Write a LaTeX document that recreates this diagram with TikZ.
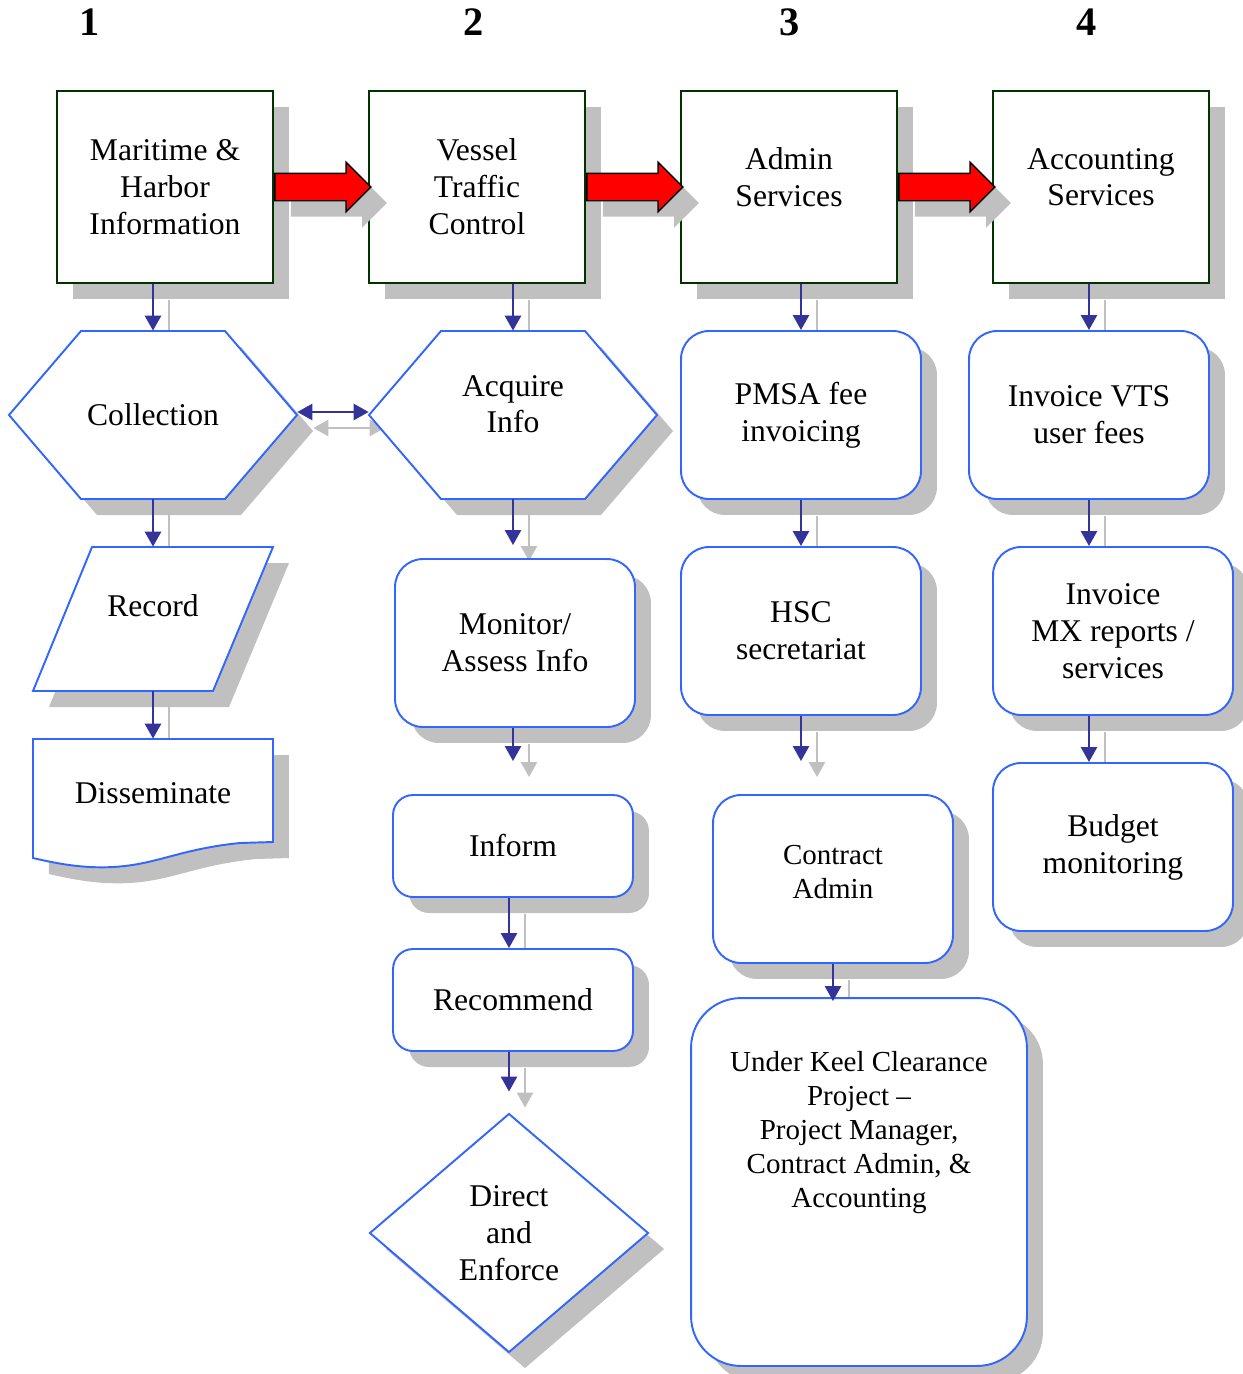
\documentclass[tikz,border=0pt]{standalone}
\usepackage{fontspec}
\setmainfont{Liberation Serif}
\usetikzlibrary{arrows.meta,calc,positioning,shadows,shapes.geometric,shapes.arrows}
\pgfdeclarelayer{back}
\pgfsetlayers{back,main}
\definecolor{shapeblue}{HTML}{3366FF}
\definecolor{flowblue}{HTML}{333399}
\definecolor{boxgreen}{HTML}{003300}
\definecolor{shadegray}{HTML}{C0C0C0}
\tikzset{
  txt/.style={align=center,font=\fontsize{18}{21}\selectfont,inner sep=0pt},
  smalltxt/.style={align=center,font=\fontsize{16.5}{19.4}\selectfont,inner sep=0pt},
  shd/.style={drop shadow={shadow xshift=0.32cm,shadow yshift=-0.32cm,fill=shadegray,opacity=1}},
  topbox/.style={txt,shd,draw=boxgreen,line width=1.4pt,fill=white,minimum width=4.32cm,minimum height=3.84cm},
  rbox/.style={txt,shd,draw=shapeblue,line width=1.1pt,fill=white,rounded corners=0.56cm,minimum width=4.8cm,minimum height=3.36cm},
  outline/.style={shd,draw=shapeblue,line width=1.1pt,fill=white},
  flow/.style={draw=flowblue,line width=1.5pt,-{Triangle[length=0.3cm,width=0.32cm]}},
  flowshade/.style={flow,draw=shadegray},
  flowboth/.style={{Triangle[length=0.3cm,width=0.32cm]}-{Triangle[length=0.3cm,width=0.32cm]}},
  bigarrow/.style={single arrow,shd,draw=black,line width=0.8pt,fill=red,inner sep=0pt,anchor=tail,
    text height=0.52cm,text depth=0pt,minimum height=1.92cm,single arrow head extend=0.22cm},
  colnum/.style={font=\bfseries\fontsize{23}{26}\selectfont}
}
\begin{document}
\begin{tikzpicture}[x=0.02cm,y=-0.02cm]
\useasboundingbox (0,0) rectangle (1243,1374);

% column numbers
\foreach \x/\n in {90/1,474/2,790/3,1087/4}
  \node[colnum] (n\n) at (\x,22) {\n};

% top row
\node[topbox] (m1) at (165,187) {Maritime \&\\Harbor\\Information};
\node[topbox] (v2) at (477,187) {Vessel\\Traffic\\Control};
\node[topbox,text depth=0.4cm] (a3) at (789,187) {Admin\\Services};
\node[topbox,text depth=0.4cm] (a4) at (1101,187) {Accounting\\Services};

\node[bigarrow] (r1) at (m1.east) {};
\node[bigarrow] (r2) at (v2.east) {};
\node[bigarrow] (r3) at (a3.east) {};

% column 1
\draw[outline] (9,415) -- (81,331) -- (225,331) -- (297,415) -- (225,499) -- (81,499) -- cycle;
\node[txt,minimum width=5.76cm,minimum height=3.36cm] (col) at (153,415) {Collection};
\draw[outline] (92,547) -- (273,547) -- (213,691) -- (33,691) -- cycle;
\node[txt,text depth=0.52cm,minimum width=4.8cm,minimum height=2.88cm] (rec) at (153,619) {Record};
\draw[outline] (33,739) -- (273,739) -- (273,842) -- (240,843)
  .. controls (170,850) and (150,870) .. (90,867)
  .. controls (70,866) and (50,862) .. (33,858) -- cycle;
\node[txt,minimum width=4.8cm,minimum height=2.16cm] (dis) at (153,793) {Disseminate};

% column 2
\draw[outline] (369,415) -- (441,331) -- (585,331) -- (657,415) -- (585,499) -- (441,499) -- cycle;
\node[txt,text depth=0.44cm,minimum width=5.76cm,minimum height=3.36cm] (acq) at (513,415) {Acquire\\Info};
\node[rbox] (mon) at (515,643) {Monitor/\\Assess Info};
\node[rbox,rounded corners=0.4cm,minimum height=2.04cm] (inf) at (513,846) {Inform};
\node[rbox,rounded corners=0.4cm,minimum height=2.04cm] (recm) at (513,1000) {Recommend};
\node[txt,outline,diamond,aspect=1.17,minimum width=5.58cm,minimum height=4.78cm] (dir) at (509,1233) {Direct\\and\\Enforce};

% column 3
\node[rbox] (pmsa) at (801,415) {PMSA fee\\invoicing};
\node[rbox] (hsc) at (801,631) {HSC\\secretariat};
\node[rbox,smalltxt,text depth=0.28cm] (con) at (833,879) {Contract\\Admin};
\node[rbox,smalltxt,rounded corners=1cm,text depth=2.1cm,minimum width=6.72cm,minimum height=7.36cm] (uk) at (859,1182)
  {Under Keel Clearance\\Project –\\Project Manager,\\Contract Admin, \&\\Accounting};

% column 4
\node[rbox] (vts) at (1089,415) {Invoice VTS\\user fees};
\node[rbox] (mx) at (1113,631) {Invoice\\MX reports /\\services};
\node[rbox] (bud) at (1113,847) {Budget\\monitoring};

% connectors
\def\flowlist{m1/col/0pt/0, col/rec/0pt/0, rec/dis/0pt/0,
  v2/acq/0pt/0, acq/mon/0.26cm/-2, mon/inf/0.66cm/0, inf/recm/0pt/-4, recm/dir/0.42cm/0,
  a3/pmsa/0pt/0, pmsa/hsc/0pt/0, hsc/con/0.66cm/-32, con/uk/-0.08cm/-26,
  a4/vts/0pt/0, vts/mx/0pt/-24, mx/bud/0pt/-24}
\begin{pgfonlayer}{back}
\foreach \a/\b/\g/\dx in \flowlist
  \draw[flowshade,shorten >=\g] ($(\b.north |- \a.south)+(\dx+16,16)$) -- ($(\b.north)+(\dx+16,16)$);
\draw[flowshade,flowboth] ($(col.east)+(16,13)$) -- ($(acq.west)+(16,13)$);
\end{pgfonlayer}
\foreach \a/\b/\g/\dx in \flowlist
  \draw[flow,shorten >=\g] ($(\b.north |- \a.south)+(\dx,0)$) -- ($(\b.north)+(\dx,0)$);
\draw[flow,flowboth] ($(col.east)+(0,-3)$) -- ($(acq.west)+(0,-3)$);
\end{tikzpicture}
\end{document}
